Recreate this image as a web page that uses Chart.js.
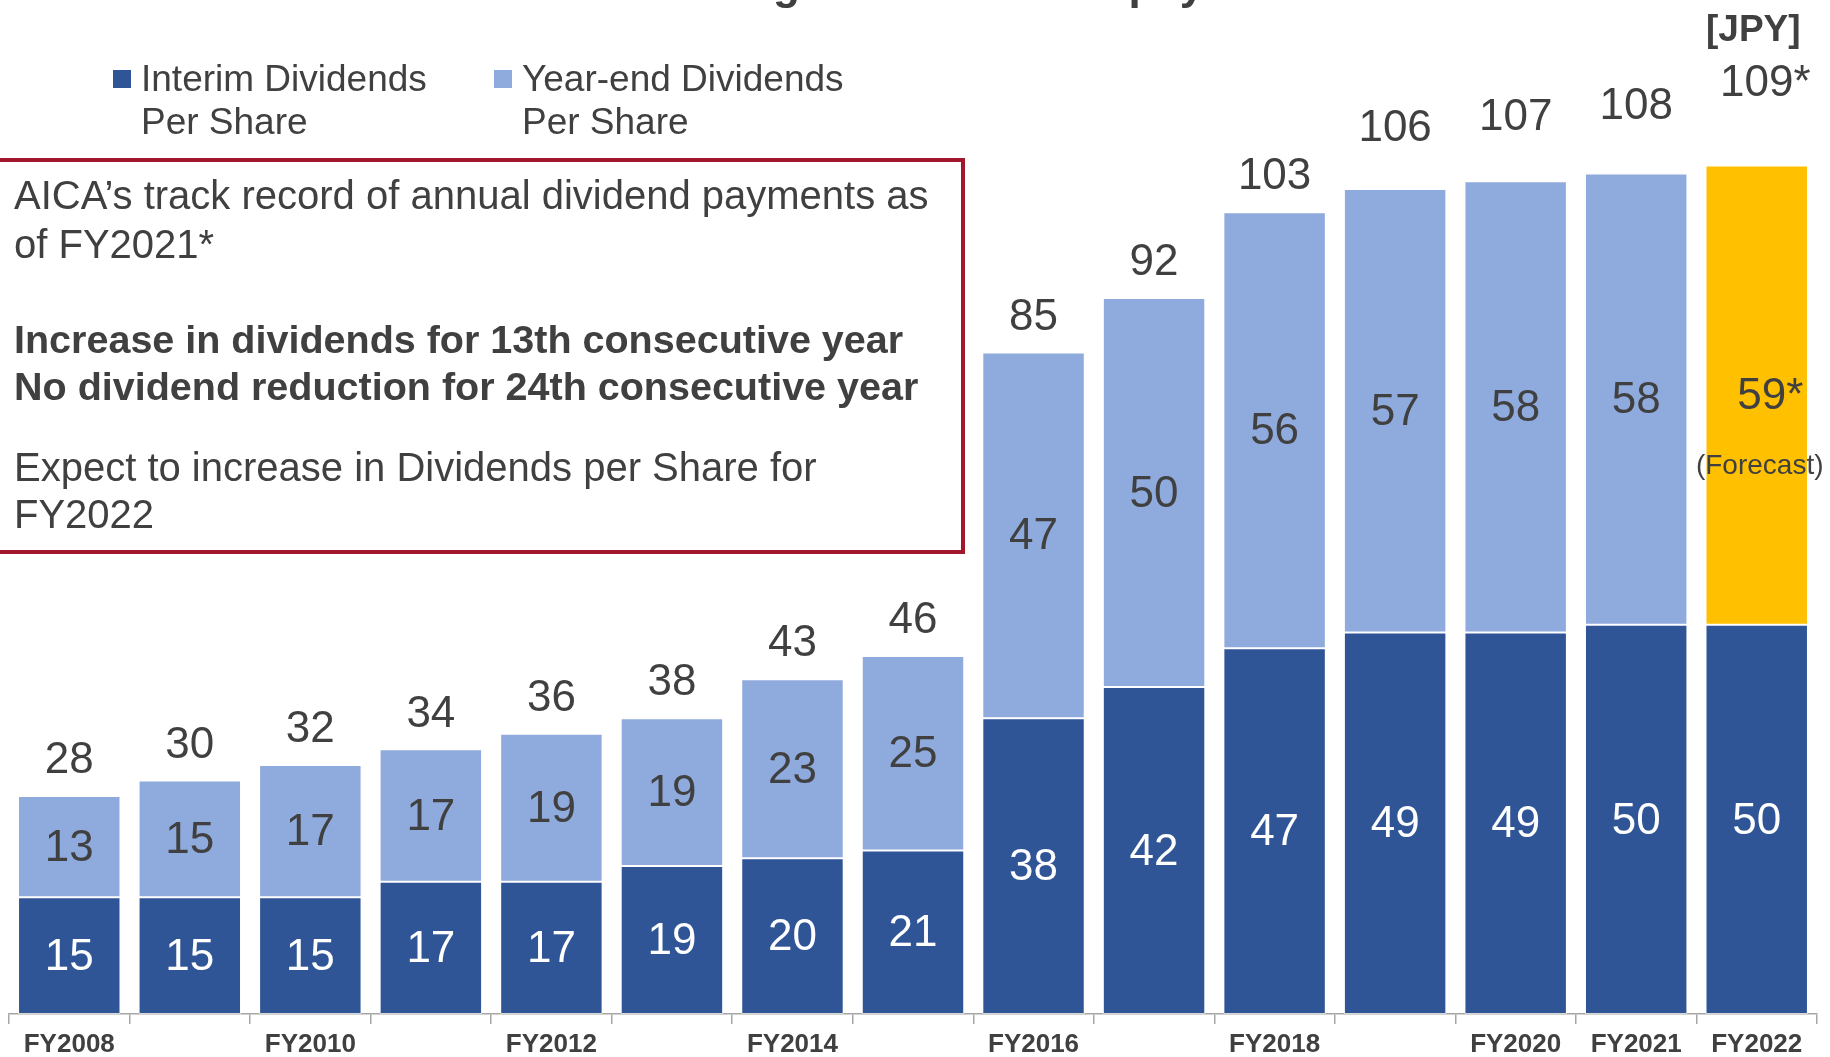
<!DOCTYPE html>
<html>
<head>
<meta charset="utf-8">
<title>Dividends per Share</title>
<script src="https://cdn.jsdelivr.net/npm/chart.js@4.4.1/dist/chart.umd.min.js"></script>
<style>
    html, body { margin: 0; padding: 0; background: #fff; }
    body { font-family: "Liberation Sans", Arial, sans-serif; color: #404040; }
    #wrap { position: relative; width: 1830px; height: 1057px; overflow: hidden; }
    #grafico { position: absolute; left: 0; top: 0; }
    .txt { position: absolute; white-space: nowrap; }
    #titulo { left: 663px; top: -38px; font-size: 44px; line-height: 44px; font-weight: bold; word-spacing: 6px; }
    #unidade { left: 1706px; top: 9px; font-size: 37px; line-height: 40px; font-weight: bold; }
    .legenda { position: absolute; top: 57px; font-size: 37px; line-height: 43px; }
    .legenda i { position: absolute; left: -28px; top: 13px; width: 18px; height: 18px; }
    #caixa {
        position: absolute; left: -10px; top: 158px; width: 967px; height: 388px;
        border: 4px solid #a3172d; box-sizing: content-box;
    }
    .bloco { position: absolute; left: 14px; font-size: 40px; line-height: 48px; white-space: nowrap; }
</style>
</head>
<body>
<div id="wrap">
    <canvas id="grafico" width="1830" height="1066"></canvas>

    <div class="txt" id="titulo">Changes in Dividend payments</div>
    <div class="txt" id="unidade">[JPY]</div>

    <div class="legenda" style="left:141px"><i style="background:#2f5597"></i>Interim Dividends<br>Per Share</div>
    <div class="legenda" style="left:522px"><i style="background:#8faadc"></i>Year-end Dividends<br>Per Share</div>

    <div id="caixa"></div>
    <div class="bloco" style="top:171px;line-height:49px">AICA’s track record of annual dividend payments as<br>of FY2021*</div>
    <div class="bloco" style="top:316px;line-height:47px;font-weight:bold;font-size:39.5px">Increase in dividends for 13th consecutive year<br>No dividend reduction for 24th consecutive year</div>
    <div class="bloco" style="top:444px;line-height:47px">Expect to increase in Dividends per Share for<br>FY2022</div>
</div>

<script>
// ===================== DADOS =====================
const anos = ['FY2008', 'FY2009', 'FY2010', 'FY2011', 'FY2012', 'FY2013', 'FY2014', 'FY2015',
              'FY2016', 'FY2017', 'FY2018', 'FY2019', 'FY2020', 'FY2021', 'FY2022'];
const rotulosEixo = ['FY2008', '', 'FY2010', '', 'FY2012', '', 'FY2014', '',
                     'FY2016', '', 'FY2018', '', 'FY2020', 'FY2021', 'FY2022'];
const interim = [15, 15, 15, 17, 17, 19, 20, 21, 38, 42, 47, 49, 49, 50, 50];
const yearEnd = [13, 15, 17, 17, 19, 19, 23, 25, 47, 50, 56, 57, 58, 58, 59];
const previsao = [false, false, false, false, false, false, false, false,
                  false, false, false, false, false, false, true];

// distância do total até o topo da barra (px)
const folgaTotal = [37, 37, 37, 37, 37, 37, 37, 37, 37, 37, 37, 62, 65, 69, 84];

// ===================== CORES =====================
const corInterim = '#2f5597';
const corYearEnd = '#8faadc';
const corPrevisao = '#ffc000';
const corTexto = '#404040';
const fonte = '"Liberation Sans", Arial, sans-serif';

const totais = interim.map((v, i) => v + yearEnd[i]);

// escreve número centralizado, com asterisco pendurado à direita
function textoComAsterisco(ctx, num, x, y, comAst) {
    ctx.textAlign = 'center';
    ctx.fillText(num, x, y);
    if (comAst) {
        const w = ctx.measureText(num).width;
        ctx.textAlign = 'left';
        ctx.fillText('*', x + w / 2, y);
    }
}

// ===================== RÓTULOS =====================
const rotulosPlugin = {
    id: 'rotulos',
    afterDatasetsDraw(chart) {
        const ctx = chart.ctx;
        const barrasI = chart.getDatasetMeta(0).data;
        const barrasY = chart.getDatasetMeta(1).data;
        ctx.save();
        ctx.textBaseline = 'middle';
        ctx.font = '44px ' + fonte;

        barrasI.forEach((b, i) => {
            ctx.fillStyle = '#fff';
            textoComAsterisco(ctx, String(interim[i]), b.x, (b.y + b.base) / 2 + 2, false);
        });

        barrasY.forEach((b, i) => {
            const meio = (b.y + b.base) / 2;
            ctx.fillStyle = corTexto;
            ctx.font = '44px ' + fonte;
            textoComAsterisco(ctx, String(yearEnd[i]), b.x + (previsao[i] ? 5 : 0), meio + 2, previsao[i]);
            textoComAsterisco(ctx, String(totais[i]), b.x, b.y - folgaTotal[i] + 2, previsao[i]);
            if (previsao[i]) {
                ctx.font = '28px ' + fonte;
                ctx.textAlign = 'center';
                ctx.fillText('(Forecast)', b.x + 3, meio + 71);
            }
        });
        ctx.restore();
    }
};

// ===================== GRÁFICO =====================
const ctx = document.getElementById('grafico').getContext('2d');
new Chart(ctx, {
    type: 'bar',
    data: {
        labels: anos,
        datasets: [
            {
                label: 'Interim Dividends Per Share',
                data: interim,
                backgroundColor: corInterim,
                borderColor: 'rgba(255,255,255,0.55)',
                borderWidth: 1,
                borderSkipped: false
            },
            {
                label: 'Year-end Dividends Per Share',
                data: yearEnd,
                backgroundColor: previsao.map(p => p ? corPrevisao : corYearEnd),
                borderColor: 'rgba(255,255,255,0.55)',
                borderWidth: 1,
                borderSkipped: false
            }
        ]
    },
    options: {
        responsive: false,
        animation: false,
        events: [],
        layout: { padding: { left: 9, right: 13, top: 80, bottom: 0 } },
        datasets: { bar: { categoryPercentage: 1, barPercentage: 0.85 } },
        plugins: {
            legend: { display: false },
            tooltip: { enabled: false },
            title: { display: false }
        },
        scales: {
            x: {
                stacked: true,
                grid: { display: true, drawOnChartArea: false, tickLength: 10, color: '#a6a6a6', lineWidth: 1.5, offset: true },
                border: { display: true, color: '#a6a6a6', width: 1.5 },
                ticks: {
                    autoSkip: false,
                    maxRotation: 0,
                    padding: 8,
                    color: corTexto,
                    font: { family: fonte, size: 26, weight: 'bold', lineHeight: 1 },
                    callback: (v, i) => rotulosEixo[i]
                }
            },
            y: { stacked: true, display: false, min: 0, max: 120 }
        }
    },
    plugins: [rotulosPlugin]
});
</script>
</body>
</html>
